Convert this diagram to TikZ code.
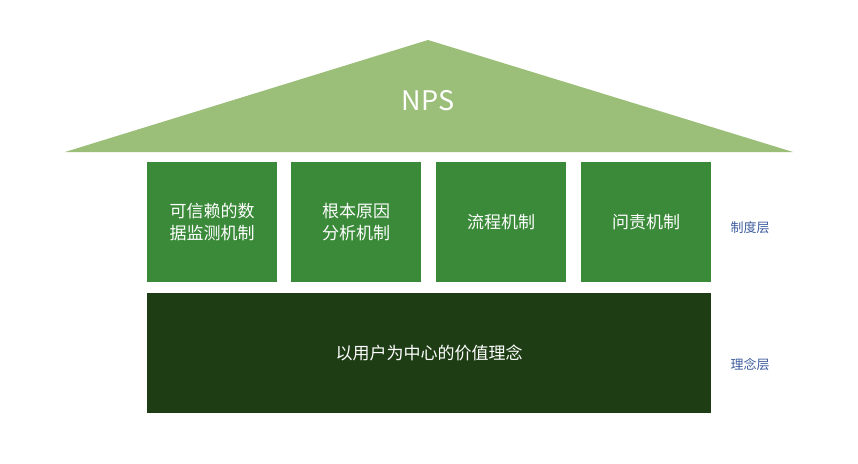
\documentclass[tikz,border=0pt]{standalone}
\usepackage{fontspec}
\setmainfont{Noto Sans CJK SC}
\begin{document}
\begin{tikzpicture}[x=1pt,y=-1pt,
  pillar/.style={fill=pgreen,draw=none,minimum width=130pt,minimum height=120pt,inner sep=0pt,text=white,font=\fontsize{17}{22}\selectfont,align=center},
  side/.style={text=lblue,font=\fontsize{13}{16}\selectfont}]
\definecolor{roof}{HTML}{9BBF79}
\definecolor{pgreen}{HTML}{3B8A3A}
\definecolor{dgreen}{HTML}{1E3D15}
\definecolor{lblue}{HTML}{3E5C9E}
\useasboundingbox (0,0) rectangle (858,463);
\fill[roof] (428,40) -- (793,152) -- (65,152) -- cycle;
\node[text=white,font=\fontsize{27}{30}\selectfont] (nps) at (428,101) {NPS};
\node[pillar] (p1) at (212,222) {可信赖的数\\据监测机制};
\node[pillar] (p2) at (356,222) {根本原因\\分析机制};
\node[pillar] (p3) at (501,222) {流程机制};
\node[pillar] (p4) at (646,222) {问责机制};
\node[fill=dgreen,minimum width=564pt,minimum height=120pt,inner sep=0pt,text=white,font=\fontsize{17}{22}\selectfont] (base) at (429,353) {以用户为中心的价值理念};
\node[side] (l1) at (750,228) {制度层};
\node[side] (l2) at (750,365) {理念层};
\end{tikzpicture}
\end{document}
